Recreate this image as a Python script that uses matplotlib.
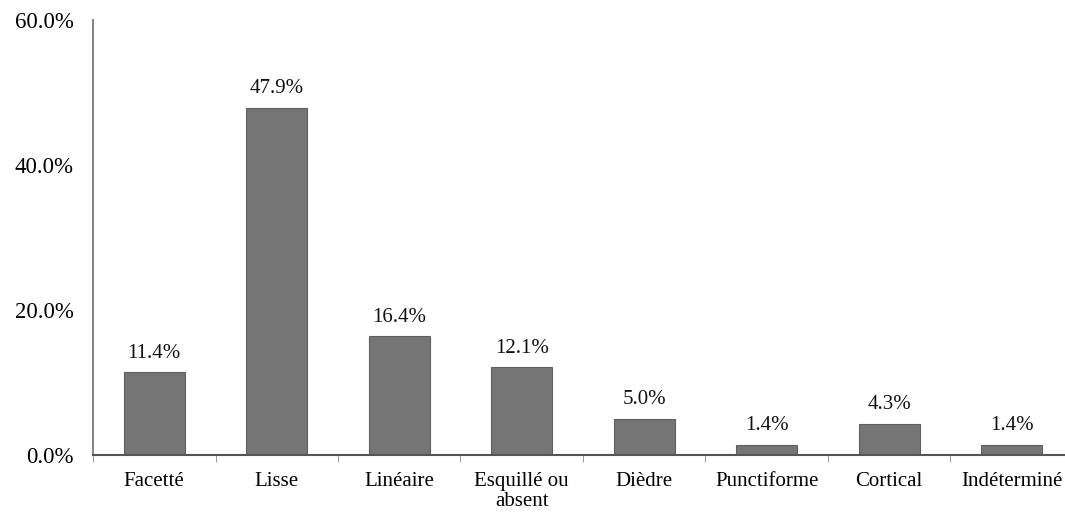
import numpy as np
import matplotlib
matplotlib.use("Agg")
from matplotlib import pyplot as plt
from matplotlib.ticker import FuncFormatter

categories = ['Facetté', 'Lisse', 'Linéaire', 'Esquillé ou\nabsent', 'Dièdre',
              'Punctiforme', 'Cortical', 'Indéterminé']
values = [11.4, 47.9, 16.4, 12.1, 5.0, 1.4, 4.3, 1.4]

plt.rcParams['font.family'] = ['Liberation Serif', 'DejaVu Serif']

fig = plt.figure(figsize=(10.65, 5.13), dpi=100)
ax = fig.add_axes([93 / 1065, 58 / 513, 980 / 1065, 435 / 513])

x = np.arange(len(categories))
bars = ax.bar(x, values, width=0.5, color='#757575', edgecolor='#606060', linewidth=0.8)

for xi, v in zip(x, values):
    ax.text(xi, v + 1.3, '%.1f%%' % v, ha='center', va='bottom', fontsize=15, color='#111111')

ax.set_xlim(-0.5, 7.5)
ax.set_ylim(0, 60)
ax.set_yticks([0, 20, 40, 60])
ax.yaxis.set_major_formatter(FuncFormatter(lambda v, p: '%.1f%%' % v))
ax.tick_params(axis='y', length=0, labelsize=16.5, pad=14)

ax.set_xticks(x)
ax.set_xticklabels(categories, fontsize=15, linespacing=1.1)
ax.tick_params(axis='x', length=0, pad=12)
ax.set_xticks(np.arange(-0.5, 8, 1), minor=True)
ax.tick_params(axis='x', which='minor', length=5, color='#888888', direction='out')

for s in ['top', 'right']:
    ax.spines[s].set_visible(False)
ax.spines['left'].set_color('#888888')
ax.spines['left'].set_linewidth(1.5)
ax.spines['bottom'].set_color('#555555')
ax.spines['bottom'].set_linewidth(1.5)

fig.savefig('out.png', dpi=100)
